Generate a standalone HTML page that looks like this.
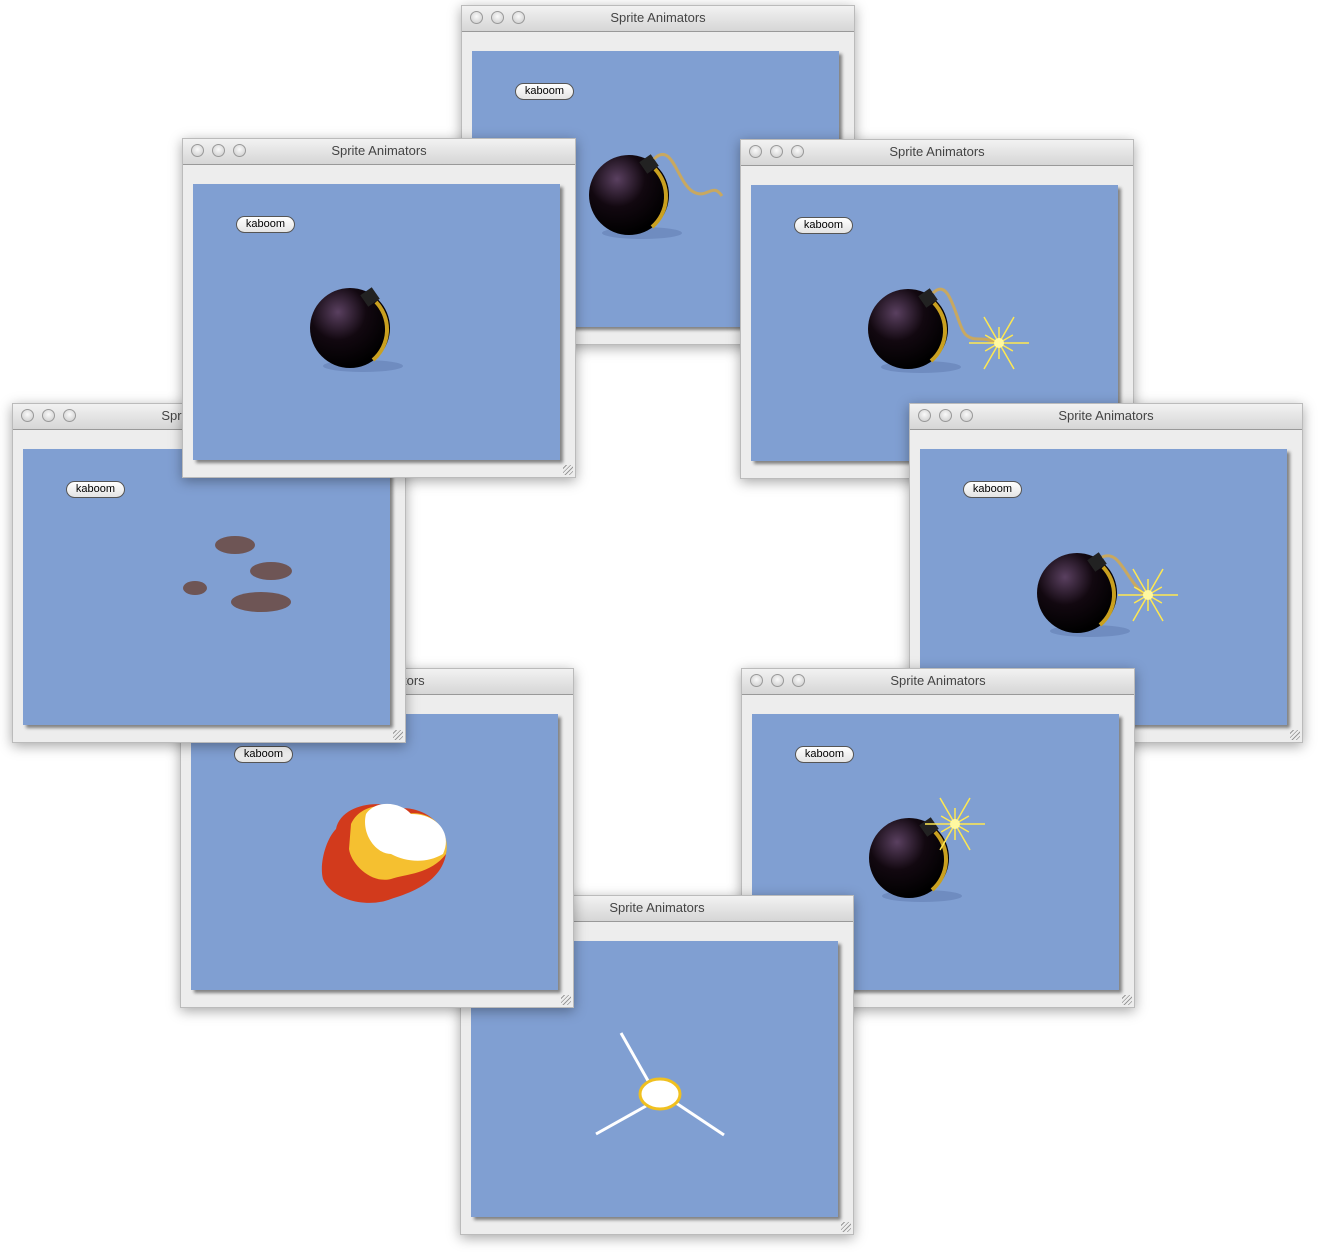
<!DOCTYPE html>
<html><head><meta charset="utf-8"><style>
body{margin:0;width:1318px;height:1252px;background:#fff;position:relative;overflow:hidden;font-family:"Liberation Sans",sans-serif}
.win{position:absolute;width:394px;height:340px;background:#ededed;box-shadow:0 3px 12px rgba(0,0,0,0.35);border:1px solid #bbb;box-sizing:border-box}
.tb{height:25px;background:linear-gradient(#f2f2f2,#d6d6d6);border-bottom:1px solid #999;position:relative;text-align:center;font-size:13px;line-height:24px;color:#444}
.dot{position:absolute;top:5px;width:13px;height:13px;border-radius:50%;background:radial-gradient(circle at 50% 40%,#fafafa,#c9c9c9);border:1px solid #999;box-sizing:border-box}
.blue{position:absolute;left:10px;top:45px;width:367px;height:276px;background:#809fd2;box-shadow:3px 3px 3px rgba(0,0,0,0.45);overflow:hidden}
.btn{position:absolute;left:43px;top:32px;width:59px;height:17px;border-radius:9px;background:linear-gradient(#fff,#e4e4e4);border:1px solid #555;box-sizing:border-box;font-size:11px;text-align:center;line-height:15px;color:#000}
.grip{position:absolute;right:2px;bottom:2px;width:10px;height:10px;background:repeating-linear-gradient(135deg,transparent 0 2px,#999 2px 3px)}
</style></head><body>
<script>
const wins=[
 {x:461,y:5,z:1,k:'bomb',fuse:1},
 {x:740,y:139,z:2,k:'bomb',fuse:2},
 {x:909,y:403,z:3,k:'bomb',fuse:3},
 {x:741,y:668,z:4,k:'bomb',fuse:4},
 {x:460,y:895,z:5,k:'spark'},
 {x:180,y:668,z:6,k:'boom'},
 {x:12,y:403,z:7,k:'smoke'},
 {x:182,y:138,z:8,k:'bomb',fuse:0}
];
function bomb(f){
 let s='<defs><radialGradient id="g'+f+'" cx="35%" cy="30%" r="70%"><stop offset="0" stop-color="#5a4060"/><stop offset="0.5" stop-color="#120810"/><stop offset="1" stop-color="#000"/></radialGradient></defs>';
 s+='<ellipse cx="170" cy="182" rx="40" ry="6" fill="#6f8cc0"/>';
 s+='<circle cx="157" cy="144" r="40" fill="url(#g'+f+')"/>';
 s+='<path d="M183 118 A40 40 0 0 1 180 176" stroke="#c9a020" stroke-width="4" fill="none"/>';
 s+='<rect x="170" y="106" width="14" height="14" fill="#222" transform="rotate(-35 177 113)"/>';
 if(f===1)s+='<path d="M182 108 C200 90 205 130 220 140 C235 150 240 130 250 145" stroke="#c8a860" stroke-width="3" fill="none"/>';
 if(f===2)s+='<path d="M182 108 C200 90 205 140 215 150 C225 158 230 150 245 158" stroke="#c8a860" stroke-width="3" fill="none"/>'+star(248,158);
 if(f===3)s+='<path d="M182 108 C200 100 205 130 225 146" stroke="#c8a860" stroke-width="3" fill="none"/>'+star(228,146);
 if(f===4)s+=star(203,110);
 return s;
}
function star(x,y){let s='';for(let i=0;i<12;i++){const a=i*Math.PI/6,l=i%2?16:30;s+='<line x1="'+x+'" y1="'+y+'" x2="'+(x+l*Math.cos(a))+'" y2="'+(y+l*Math.sin(a))+'" stroke="#ffe850" stroke-width="1.5"/>';}return s+'<circle cx="'+x+'" cy="'+y+'" r="5" fill="#fff8a0"/>';}
function content(w){
 if(w.k==='bomb')return bomb(w.fuse);
 if(w.k==='smoke')return '<g fill="#6e5555"><ellipse cx="212" cy="96" rx="20" ry="9"/><ellipse cx="248" cy="122" rx="21" ry="9"/><ellipse cx="172" cy="139" rx="12" ry="7"/><ellipse cx="238" cy="153" rx="30" ry="10"/></g>';
 if(w.k==='boom')return '<path d="M145 115 C150 90 190 85 205 95 C230 90 260 110 255 140 C250 170 215 180 200 185 C175 195 140 185 132 165 C128 150 135 125 145 115Z" fill="#d23a1c"/><path d="M160 110 C170 88 200 88 215 100 C240 95 260 115 255 140 C240 160 215 160 200 165 C180 170 160 150 158 135Z" fill="#f5c030"/><path d="M175 100 C185 85 210 88 220 100 C245 100 262 118 252 140 C235 150 215 148 200 140 C185 140 170 120 175 100Z" fill="#fff"/>';
 if(w.k==='spark')return '<line x1="150" y1="92" x2="180" y2="145" stroke="#fff" stroke-width="3"/><line x1="125" y1="193" x2="175" y2="165" stroke="#fff" stroke-width="3"/><line x1="205" y1="162" x2="253" y2="194" stroke="#fff" stroke-width="3"/><ellipse cx="189" cy="153" rx="20" ry="15" fill="#fff" stroke="#f0c020" stroke-width="3"/>';
}
wins.forEach((w,i)=>{
 const d=document.createElement('div');
 d.className='win';d.style.left=w.x+'px';d.style.top=w.y+'px';d.style.zIndex=w.z;
 
 
 let h='<div class="tb"><span class="dot" style="left:8px"></span><span class="dot" style="left:29px"></span><span class="dot" style="left:50px"></span>Sprite Animators</div>';
 h+='<div class="blue"><svg width="367" height="276">'+content(w)+'</svg>';
 if(w.k!=='spark')h+='<div class="btn">kaboom</div>';
 h+='</div><div class="grip"></div>';
 d.innerHTML=h;document.body.appendChild(d);
});
</script>
</body></html>
